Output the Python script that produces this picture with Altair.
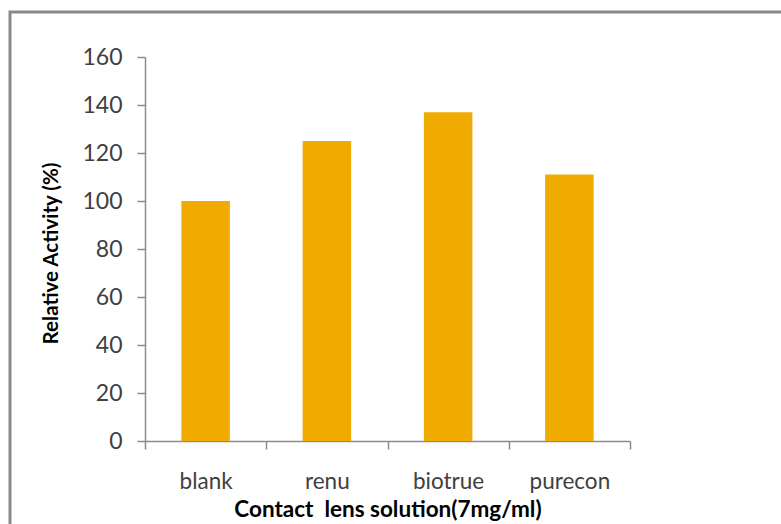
import altair as alt
import pandas as pd

categories = ["blank", "renu", "biotrue", "purecon"]
activity = [100, 125, 137, 111]
y_ticks = [0, 20, 40, 60, 80, 100, 120, 140, 160]

df = pd.DataFrame({"solution": categories, "activity": activity})

W, H = 485, 384
FONT = "Lato"

bars = alt.Chart(df).mark_bar(color="#F0AB00", width={"band": 0.4}).encode(
    x=alt.X(
        "solution:N",
        sort=categories,
        scale=alt.Scale(paddingInner=0, paddingOuter=0),
        axis=alt.Axis(
            title="Contact\u00a0 lens solution(7mg/ml)",
            labelAngle=0,
            tickBand="extent",
            tickSize=8,
            labelPadding=21,
            labelFontSize=22.5,
            labelColor="#404040",
            labelFont=FONT,
            domainColor="#8C8C8C",
            tickColor="#8C8C8C",
            domainWidth=1.5,
            tickWidth=1.5,
            titleFont=FONT,
            titleFontSize=22.5,
            titleFontWeight="bold",
            titleColor="#000000",
            titleY=75,
            titleBaseline="alphabetic",
        ),
    ),
    y=alt.Y(
        "activity:Q",
        scale=alt.Scale(domain=[0, 160], nice=False),
        axis=alt.Axis(
            title="Relative Activity (%)",
            values=y_ticks,
            grid=False,
            tickSize=8,
            labelPadding=15,
            labelFontSize=23,
            labelColor="#404040",
            labelFont=FONT,
            domainColor="#8C8C8C",
            tickColor="#8C8C8C",
            domainWidth=1.5,
            tickWidth=1.5,
            titleFont=FONT,
            titleFontSize=20.5,
            titleFontWeight="bold",
            titleColor="#000000",
            titleX=-94,
            titleY=196,
            titleBaseline="middle",
        ),
    ),
)

border = alt.Chart(pd.DataFrame({"k": [0]})).mark_rect(
    fill=None, stroke="#8A8A8A", strokeWidth=3, clip=False
).encode(
    x=alt.value(-135), x2=alt.value(W + 200), y=alt.value(-45), y2=alt.value(H + 150)
)

chart = alt.layer(border, bars).properties(
    width=W,
    height=H,
    background="white",
    autosize=alt.AutoSizeParams(type="none"),
    padding={"left": 145, "top": 57, "right": 151, "bottom": 83},
).configure_view(stroke="transparent", strokeWidth=0)

chart.save("out.html", embed_options={"renderer": "svg", "actions": False})
